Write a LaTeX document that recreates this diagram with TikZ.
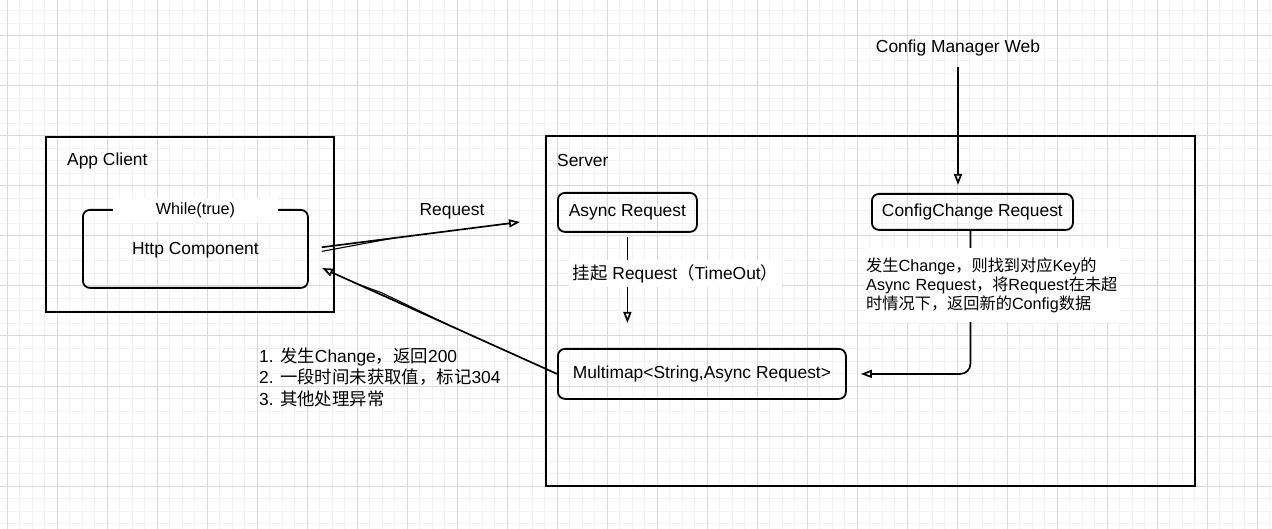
\documentclass[tikz,border=0pt]{standalone}
\usepackage{fontspec}
\setmainfont{Liberation Sans}
\newfontfamily\cjk{Noto Sans CJK SC}
\usetikzlibrary{arrows.meta,calc}
\newcommand\mainfs{\fontsize{17.4}{21}\selectfont}
\newcommand\listfs{\fontsize{17.4}{21.5}\selectfont}
\newcommand\smallfs{\fontsize{16.2}{19}\selectfont}
\begin{document}
\begin{tikzpicture}[x=1pt,y=-1pt,
  minorgrid/.style={draw=black!5,line width=1pt},
  majorgrid/.style={draw=black!15,line width=1pt},
  frame/.style={draw=black,line width=2pt,inner sep=0pt,anchor=north west},
  rbox/.style={draw=black,line width=1.8pt,rounded corners=7pt,inner sep=0pt,anchor=north west,font=\mainfs},
  txt/.style={inner sep=1pt,font=\mainfs,text=black},
  arr/.style={line width=1.7pt,-{Triangle[open,length=11pt,width=8pt]}},
  stroke/.style={line width=1.1pt}]
\useasboundingbox (0,0) rectangle (1272,529);
\fill[white] (0,0) rectangle (1272,529);
% grid
\foreach \k in {0,...,101} \draw[minorgrid] ({7.3+12.5*\k},0) -- ({7.3+12.5*\k},529);
\foreach \k in {0,...,42} \draw[minorgrid] (0,{11+12.5*\k}) -- (1272,{11+12.5*\k});
\foreach \k in {0,...,25} \draw[majorgrid] ({7.3+50*\k},0) -- ({7.3+50*\k},529);
\foreach \k in {0,...,9} \draw[majorgrid] (0,{36+50*\k}) -- (1272,{36+50*\k});

% containers
\node[frame,minimum width=288pt,minimum height=175pt] (client) at (45,136) {};
\node[txt,anchor=west] (clientt) at (66,161) {App Client};
\node[frame,minimum width=649pt,minimum height=350pt] (server) at (545,135) {};
\node[txt,anchor=west] (servert) at (556,161) {Server};

% client inner
\node[rbox,minimum width=225pt,minimum height=78pt,text depth=0pt] (http) at (82,209) {Http Component};
\node[fill=white,inner sep=0pt,minimum width=165pt,minimum height=24pt,font=\smallfs] (while) at (195.5,210) {While(true)};

% server inner
\node[rbox,minimum width=139pt,minimum height=39pt] (async) at (557,192) {Async Request};
\node[rbox,minimum width=288pt,minimum height=50pt] (mm) at (557,348) {Multimap<String,Async Request>};
\node[rbox,minimum width=201pt,minimum height=36pt] (cfg) at (871,193) {ConfigChange Request};
\node[txt] (cmw) at (958,48) {Config Manager Web};

% connectors
\draw[arr,shorten <=10pt,shorten >=8pt] (cmw.south) -- (cmw.south |- cfg.north);

\coordinate (reqend) at (520,222);
\draw[arr,shorten <=13pt] (http.east) -- (reqend);
\draw[stroke] ($(http.east)+(13,2.5)$) -- ($(http.east)!0.4!(reqend)$);
\node[txt] (reqt) at (452,211) {Request};

\coordinate (retend) at (322,268);
\draw[arr] (mm.west) -- (retend);
\draw[stroke] ($(mm.west)!0.45!(retend)$) -- ($(mm.west)!0.75!(retend)+(0.8,-1.8)$) -- ($(mm.west)!0.85!(retend)$);
\node[txt,anchor=west,align=left,font=\listfs] (codes) at (258,377)
  {1. {\cjk 发生}Change{\cjk ，返回}200\\
   2. {\cjk 一段时间未获取值，标记}304\\
   3. {\cjk 其他处理异常}};

\draw[arr,shorten <=4pt,shorten >=25pt] (async.south) -- (async.south |- mm.north);
\node[txt,fill=white,inner sep=0pt,minimum width=213pt,minimum height=27pt] (hang) at (675.5,273.5)
  {{\cjk 挂起} Request{\cjk （}TimeOut{\cjk ）}};

\draw[arr,rounded corners=10pt,shorten >=14pt] ([xshift=-2pt]cfg.south) -- ([xshift=-2pt]cfg.south |- mm.east) -- (mm.east);
\node[fill=white,inner xsep=1pt,inner ysep=0pt,text width=253pt,minimum height=74pt,align=left,anchor=west,font=\smallfs] (cfgt) at (865,285)
  {{\cjk 发生}Change{\cjk ，则找到对应}Key{\cjk 的}\\
   Async Request{\cjk ，将}Request{\cjk 在未超}\\
   {\cjk 时情况下，返回新的}Config{\cjk 数据}};
\end{tikzpicture}
\end{document}
